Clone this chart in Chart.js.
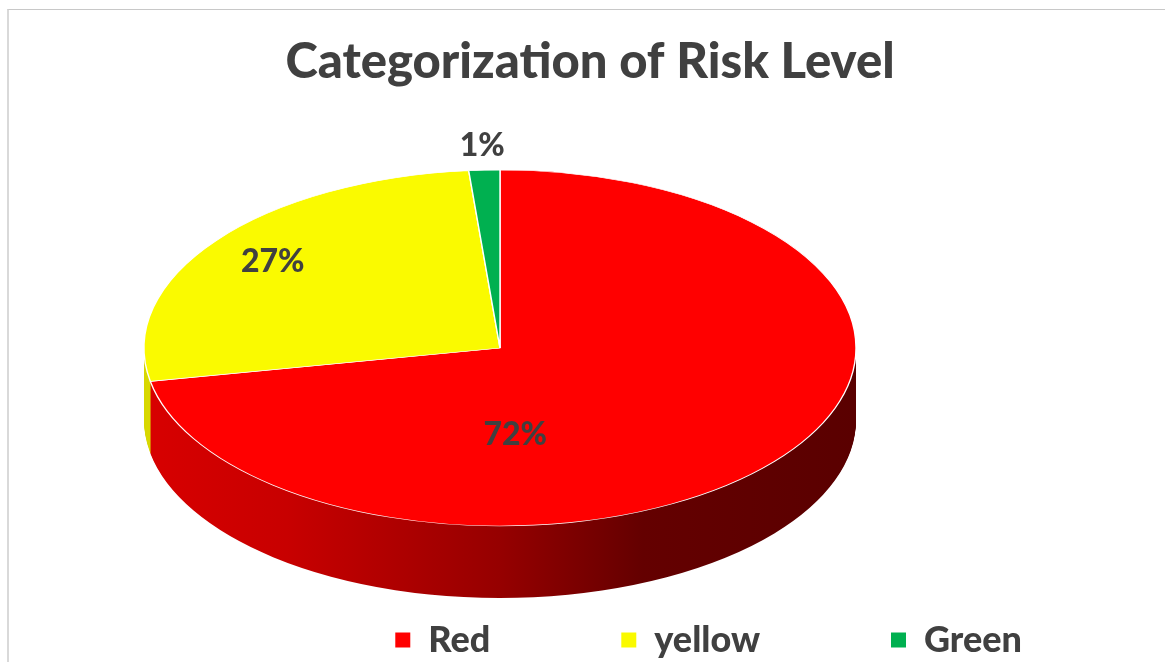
<!DOCTYPE html>
<html>
<head>
<meta charset="utf-8">
<script src="https://cdn.jsdelivr.net/npm/chart.js@4.4.1/dist/chart.umd.min.js"></script>
<style>
html,body{margin:0;padding:0;background:#fff;}
#wrap{position:relative;width:1165px;height:662px;overflow:hidden;}
#frame{position:absolute;left:7px;top:9px;width:2000px;height:2000px;border-left:2px solid #d9d9d9;border-top:1px solid #c8c8c8;pointer-events:none;}
</style>
</head>
<body>
<div id="wrap"><canvas id="c"></canvas><div id="frame"></div></div>
<script>
// ---- data ----
const categories = ['Red', 'yellow', 'Green'];
const values = [72.0, 26.6, 1.4];
const topColors = ['#FF0000', '#FAFA00', '#00B050'];
const sideColors = ['gradient', '#D8D800', '#008a45'];
const chartTitle = 'Categorization of Risk Level';

// ---- layout of the 3D effect / labels ----
const SX = 2.0;          // horizontal stretch of the pie (ellipse)
const DEPTH = 72;        // thickness of the pie
const CX = 500, CY = 348; // centre of the top face
const LABEL_ANGLE = [175, null, null];   // degrees clockwise from top (null = mid-angle)
const LABEL_RADIUS = [0.49, 0.80, 1.14];
const TEXT = '#404040';

const total = values.reduce((a, b) => a + b, 0);
const pctLabels = values.map(v => Math.round(v / total * 100) + '%');

const pie3d = {
  id: 'pie3d',
  beforeDatasetsDraw(chart) {
    const meta = chart.getDatasetMeta(0);
    const ctx = chart.ctx;
    const e0 = meta.data[0];
    ctx.save();
    ctx.translate(CX, CY);
    ctx.scale(SX, 1);
    ctx.translate(-e0.x, -e0.y);
    const R = e0.outerRadius;
    const g = ctx.createLinearGradient(e0.x - R, 0, e0.x + R, 0);
    g.addColorStop(0, '#d80000');
    g.addColorStop(0.2, '#c80000');
    g.addColorStop(0.5, '#960000');
    g.addColorStop(0.7, '#640000');
    g.addColorStop(1, '#5a0000');
    const fills = sideColors.map(c => c === 'gradient' ? g : c);
    for (let d = DEPTH; d >= 1; d--) {
      meta.data.forEach((el, i) => {
        const f = Object.create(el);
        f.y = el.y + d;
        f.options = {
          backgroundColor: fills[i], borderColor: fills[i], borderWidth: 0,
          borderAlign: 'center', borderRadius: 0, offset: 0, spacing: 0,
          circular: true, borderDash: [], borderDashOffset: 0
        };
        f.draw(ctx);
      });
    }
  },
  afterDatasetsDraw(chart) {
    const ctx = chart.ctx;
    ctx.restore();
    const meta = chart.getDatasetMeta(0);
    ctx.save();
    ctx.font = '900 32px Lato';
    ctx.fillStyle = TEXT;
    ctx.textAlign = 'center';
    ctx.textBaseline = 'middle';
    meta.data.forEach((el, i) => {
      const a = LABEL_ANGLE[i] != null ? (LABEL_ANGLE[i] - 90) * Math.PI / 180
                                        : (el.startAngle + el.endAngle) / 2;
      const r = el.outerRadius * LABEL_RADIUS[i];
      ctx.fillText(pctLabels[i], CX + Math.cos(a) * r * SX, CY + Math.sin(a) * r);
    });
    ctx.restore();
  }
};

const baseGen = (Chart.overrides.pie || Chart.overrides.doughnut).plugins.legend.labels.generateLabels;

new Chart(document.getElementById('c'), {
  type: 'pie',
  data: {
    labels: categories,
    datasets: [{
      data: values,
      backgroundColor: topColors,
      borderColor: '#ffffff',
      borderWidth: 0.7,
      radius: 178,
      clip: false
    }]
  },
  options: {
    responsive: true,
    maintainAspectRatio: false,
    animation: false,
    events: [],
    layout: { padding: { left: 27, right: 12, top: 0, bottom: -6 } },
    plugins: {
      title: {
        display: true,
        text: chartTitle,
        color: TEXT,
        font: { family: 'Lato', size: 49, weight: '900', lineHeight: 1.2 },
        padding: { top: 33, bottom: 10 }
      },
      legend: {
        position: 'bottom',
        align: 'end',
        labels: {
          boxWidth: 15,
          boxHeight: 15,
          padding: 131,
          color: TEXT,
          font: { family: 'Lato', size: 36, weight: '900' },
          generateLabels: (chart) => baseGen(chart).map(l => Object.assign(l, { lineWidth: 0, strokeStyle: 'rgba(0,0,0,0)' }))
        }
      },
      tooltip: { enabled: false }
    }
  },
  plugins: [pie3d]
});
</script>
</body>
</html>
